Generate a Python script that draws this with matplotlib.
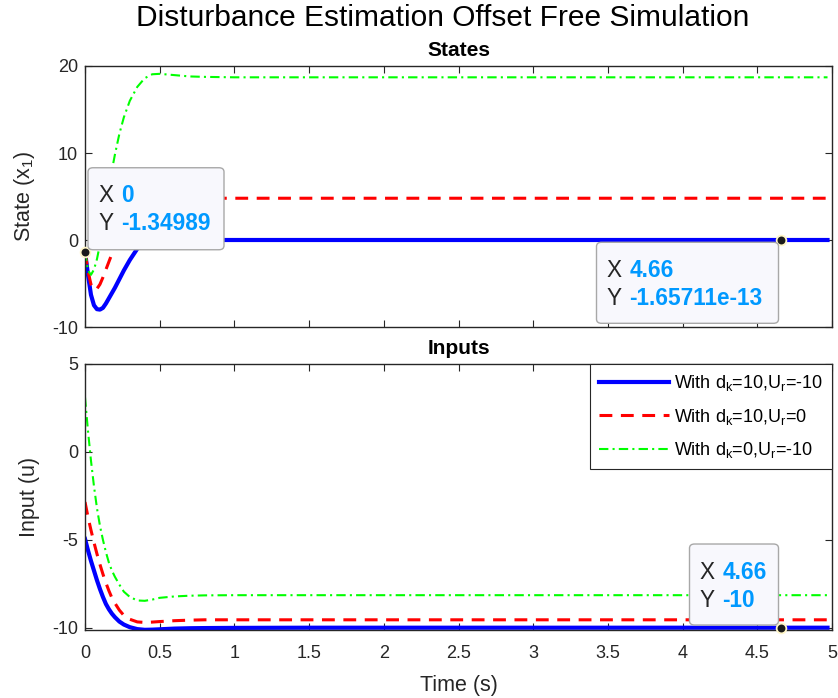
import matplotlib
matplotlib.use("Agg")

import matplotlib.pyplot as plt
from matplotlib.patches import FancyBboxPatch

plt.rcParams["font.family"] = ["Liberation Sans", "DejaVu Sans"]
plt.rcParams["mathtext.fontset"] = "custom"
plt.rcParams["mathtext.rm"] = "Liberation Sans"
plt.rcParams["mathtext.it"] = "Liberation Sans"
plt.rcParams["axes.unicode_minus"] = False

tempo = [0.00, 0.02, 0.04, 0.06, 0.08, 0.10, 0.12, 0.14, 0.16, 0.18,
         0.20, 0.23, 0.26, 0.30, 0.35, 0.40, 0.45, 0.50, 0.60, 0.70,
         0.80, 1.00, 1.50, 2.00, 3.00, 4.00, 4.66, 4.97]

# estado x1
x1_dk10_ur10 = [-1.34989, -4.0, -6.3, -7.5, -7.95, -8.0, -7.8, -7.3, -6.7, -6.1,
                -5.5, -4.5, -3.5, -2.3, -1.0, -0.35, -0.12, -0.04, 0.0, 0.0,
                0.0, 0.0, 0.0, 0.0, 0.0, 0.0, -1.65711e-13, 0.0]
x1_dk10_ur0 = [-1.34989, -3.6, -5.1, -5.7, -5.6, -5.1, -4.3, -3.4, -2.5, -1.6,
               -0.7, 0.6, 1.8, 3.0, 4.0, 4.5, 4.75, 4.85, 4.85, 4.82,
               4.8, 4.8, 4.8, 4.8, 4.8, 4.8, 4.8, 4.8]
x1_dk0_ur10 = [-1.34989, -3.5, -4.0, -3.4, -2.2, -0.5, 1.6, 3.8, 6.0, 8.0,
               9.8, 12.2, 14.1, 16.0, 17.6, 18.6, 19.05, 19.1, 18.95, 18.8,
               18.75, 18.7, 18.7, 18.7, 18.7, 18.7, 18.7, 18.7]

# entrada u
u_dk10_ur10 = [-4.95, -5.6, -6.2, -6.75, -7.3, -7.8, -8.25, -8.65, -8.95, -9.2,
               -9.4, -9.65, -9.82, -9.97, -10.08, -10.12, -10.11, -10.09, -10.05, -10.03,
               -10.02, -10.01, -10.0, -10.0, -10.0, -10.0, -10.0, -10.0]
u_dk10_ur0 = [-2.85, -3.7, -4.45, -5.15, -5.8, -6.4, -6.95, -7.45, -7.9, -8.3,
              -8.6, -9.0, -9.3, -9.52, -9.67, -9.7, -9.68, -9.65, -9.6, -9.57,
              -9.55, -9.55, -9.55, -9.55, -9.55, -9.55, -9.55, -9.55]
u_dk0_ur10 = [3.1, 1.2, -0.5, -1.95, -3.2, -4.2, -5.0, -5.7, -6.3, -6.75,
              -7.1, -7.55, -7.95, -8.25, -8.45, -8.47, -8.4, -8.3, -8.22, -8.18,
              -8.16, -8.15, -8.15, -8.15, -8.15, -8.15, -8.15, -8.15]

rotulos = ["With d$_k$=10,U$_r$=-10",
           "With d$_k$=10,U$_r$=0",
           "With d$_k$=0,U$_r$=-10"]

xticks = [0, 0.5, 1, 1.5, 2, 2.5, 3, 3.5, 4, 4.5, 5]

CINZA = "#262626"
AZUL_DT = "#0099FF"

W, H = 838, 698
fig = plt.figure(figsize=(W / 100, H / 100), dpi=100)

ax1 = fig.add_axes([85 / W, 1 - 327 / H, 747 / W, 261 / H])
ax2 = fig.add_axes([85 / W, 1 - 630 / H, 747 / W, 266 / H])

estilos = [
    dict(color="#0000FF", lw=3.0, ls="-"),
    dict(color="#FF0000", lw=2.2, ls=(0, (4.2, 2.8))),
    dict(color="#00FF00", lw=1.5, ls=(0, (4.5, 2.0, 1.0, 2.0))),
]

for serie, est, rot in zip([x1_dk10_ur10, x1_dk10_ur0, x1_dk0_ur10], estilos, rotulos):
    ax1.plot(tempo, serie, label=rot, **est)

for serie, est, rot in zip([u_dk10_ur10, u_dk10_ur0, u_dk0_ur10], estilos, rotulos):
    ax2.plot(tempo, serie, label=rot, **est)

for ax in (ax1, ax2):
    ax.set_xlim(0, 5)
    ax.set_xticks(xticks)
    ax.tick_params(direction="in", top=True, right=True, length=5,
                   width=0.8, colors=CINZA, labelsize=13)
    ax.tick_params(axis="x", pad=11)
    ax.tick_params(axis="y", pad=5)
    for sp in ax.spines.values():
        sp.set_color(CINZA)
        sp.set_linewidth(1.0)

ax1.set_ylim(-10, 20)
ax1.set_yticks([-10, 0, 10, 20])
ax1.set_xticklabels([])
ax1.set_ylabel("State (x$_1$)", fontsize=15.5, color=CINZA)
ax1.yaxis.set_label_coords(-0.064, 0.5)
ax1.set_title("States", fontsize=15, fontweight="bold", pad=7)

ax2.set_ylim(-10.13, 5)
ax2.set_yticks([-10, -5, 0, 5])
ax2.set_xticklabels(["0", "0.5", "1", "1.5", "2", "2.5", "3", "3.5", "4", "4.5", "5"])
ax2.set_ylabel("Input (u)", fontsize=15.5, color=CINZA)
ax2.yaxis.set_label_coords(-0.060, 0.5)
ax2.set_xlabel("Time (s)", fontsize=15.5, color=CINZA, labelpad=9)
ax2.set_title("Inputs", fontsize=15, fontweight="bold", pad=7)

leg = ax2.legend(loc="upper right", borderaxespad=0, fontsize=13,
                 handlelength=3.9, handletextpad=0.25, labelspacing=0.75,
                 borderpad=0.5, fancybox=False, framealpha=1)
leg.get_frame().set_edgecolor(CINZA)
leg.get_frame().set_linewidth(0.8)

fig.text(443 / W, 1 - 18 / H, "Disturbance Estimation Offset Free Simulation",
         ha="center", va="center", fontsize=21.5)


def data_tip(ax, x, y, dx, dy, w, h):
    """Marcador de data tip: ponto + caixa com X/Y (offsets em pixels)."""
    ax.plot([x], [y], "o", ms=7, mfc="#1a1a1a", mec="#FFF6C8", mew=1.3,
            clip_on=False, zorder=10)
    px, py = ax.transData.transform((x, y))
    bx, by = px + dx, py + dy
    caixa = FancyBboxPatch((bx / W, by / H), w / W, h / H,
                           boxstyle="round,pad=0,rounding_size=0.006",
                           transform=fig.transFigure, facecolor="#F8F8FD",
                           edgecolor="#A8A8A8", lw=1.0, zorder=20)
    fig.add_artist(caixa)
    topo = by + h
    for k, (nome, val) in enumerate([("X", x), ("Y", y)]):
        ty = (topo - 28 - 28 * k) / H
        fig.text((bx + 10) / W, ty, nome, color=CINZA, fontsize=16.3,
                 va="center", ha="left", zorder=21)
        fig.text((bx + 33) / W, ty, f"{val:.6g}", color=AZUL_DT, fontsize=16.3,
                 fontweight="bold", va="center", ha="left", zorder=21)


i_fim = tempo.index(4.66)
data_tip(ax1, tempo[0], x1_dk10_ur10[0], 3, 2, 136, 82)
data_tip(ax1, tempo[i_fim], x1_dk10_ur10[i_fim], -184.7, -83.3, 182, 81)
data_tip(ax2, tempo[i_fim], u_dk10_ur10[i_fim], -91.7, 2.7, 89, 81)

fig.savefig("out.png", dpi=100)
